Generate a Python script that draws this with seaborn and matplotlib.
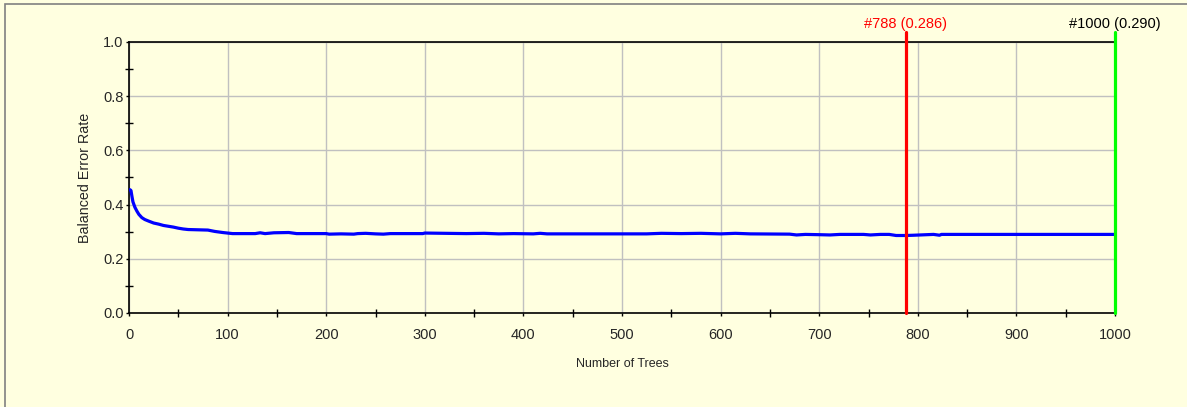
import numpy as np
import pandas as pd
import matplotlib
matplotlib.use('Agg')
import matplotlib.pyplot as plt
import seaborn as sns
from matplotlib.ticker import MultipleLocator
from matplotlib.patches import Rectangle

# error curve at its breakpoints
trees = [1, 2, 3, 4, 6, 8, 10, 13, 16, 20, 25, 30, 35, 40, 45, 50, 55, 60, 70, 80,
         87, 95, 100, 105, 128, 133, 138, 147, 162, 170, 200, 203, 215, 228, 232,
         240, 250, 258, 265, 298, 300, 342, 360, 375, 390, 410, 417, 424, 525, 540,
         560, 580, 600, 615, 630, 670, 677, 686, 700, 711, 721, 745, 752, 762, 771,
         778, 788, 796, 816, 822, 824, 900, 1000]
error = [0.455, 0.452, 0.430, 0.410, 0.390, 0.376, 0.364, 0.352, 0.345, 0.339, 0.332,
         0.328, 0.323, 0.320, 0.317, 0.313, 0.310, 0.308, 0.307, 0.306, 0.301, 0.297,
         0.295, 0.293, 0.293, 0.296, 0.293, 0.296, 0.297, 0.293, 0.293, 0.291, 0.292,
         0.291, 0.293, 0.294, 0.292, 0.291, 0.293, 0.293, 0.295, 0.293, 0.294, 0.292,
         0.293, 0.292, 0.294, 0.292, 0.292, 0.294, 0.293, 0.294, 0.292, 0.294, 0.292,
         0.291, 0.288, 0.290, 0.289, 0.288, 0.290, 0.290, 0.288, 0.290, 0.290, 0.286,
         0.286, 0.287, 0.290, 0.287, 0.290, 0.290, 0.290]

best_tree, best_err = 788, 0.286
last_tree, last_err = 1000, 0.290

bg = '#FFFFE0'
sns.set_style('white')
plt.rcParams['font.family'] = ['Liberation Sans', 'DejaVu Sans']

fig = plt.figure(figsize=(11.87, 4.07), dpi=100, facecolor=bg)
ax = fig.add_axes([129/1187, 94/407, 986/1187, 271/407], facecolor=bg)

# outer frame of the picture
fig.patches.append(Rectangle((5/1187, -0.1), 1.2, 1 - 4/407 + 0.1, transform=fig.transFigure,
                             fill=False, edgecolor='#808080', lw=1.2))

df = pd.DataFrame({'trees': trees, 'error': error})
sns.lineplot(data=df, x='trees', y='error', color='#0000FF', lw=2.3, ax=ax, zorder=3)

ax.set_xlim(0, 1000)
ax.set_ylim(0, 1.0)
ax.xaxis.set_major_locator(MultipleLocator(100))
ax.xaxis.set_minor_locator(MultipleLocator(50))
ax.yaxis.set_major_locator(MultipleLocator(0.2))
ax.yaxis.set_minor_locator(MultipleLocator(0.1))
ax.yaxis.set_major_formatter(matplotlib.ticker.FormatStrFormatter('%.1f'))
ax.grid(True, which='major', color='#C0C0C0', lw=1)
ax.tick_params(which='major', direction='out', length=2.5, width=1, color='black',
               labelsize=10.5, left=True, bottom=True)
ax.tick_params(which='minor', direction='inout', length=6, width=1, color='black',
               left=True, bottom=True)
ax.tick_params(axis='y', which='major', pad=1.5)
ax.tick_params(axis='x', which='major', pad=8.5)

for side in ['left', 'bottom', 'top']:
    ax.spines[side].set_color('black')
    ax.spines[side].set_linewidth(1.2)
ax.spines['right'].set_visible(False)

ax.set_xlabel('Number of Trees', fontsize=9, labelpad=11)
ax.set_ylabel('Balanced Error Rate', fontsize=10.3, labelpad=8)

# markers for best and last tree
ax.plot([best_tree, best_tree], [0, 1.037], color='#FF0000', lw=2.3, clip_on=False, zorder=4)
ax.plot([last_tree, last_tree], [0, 1.037], color='#00FF00', lw=2.3, clip_on=False, zorder=4)
ax.text(best_tree, 1.066, f'#{best_tree} ({best_err:.3f})', color='#FF0000', fontsize=10.5,
        ha='center', va='center', transform=ax.get_xaxis_transform())
ax.text(last_tree, 1.066, f'#{last_tree} ({last_err:.3f})', color='black', fontsize=10.5,
        ha='center', va='center', transform=ax.get_xaxis_transform())

plt.savefig('out.png', dpi=100, facecolor=bg)
